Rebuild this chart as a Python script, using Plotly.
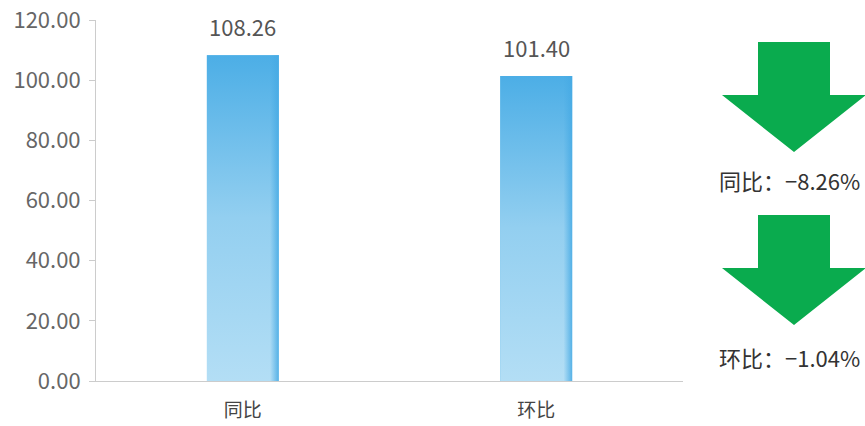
import plotly.graph_objects as go

# Index values for the two comparisons
categories = ["同比", "环比"]
values = [108.26, 101.40]

# Percentage changes shown beside the down arrows
change_labels = ["同比", "环比"]
change_pct = [-8.26, -1.04]

# Y axis ticks
y_ticks = [0, 20, 40, 60, 80, 100, 120]

FONT = "Noto Sans CJK SC"
BAR_W = 0.245
W, H = 865, 426
L, R, T, B = 96, 0, 20, 45
PLOT_W = W - L - R
MAIN_RIGHT = 683  # px where the bar chart's x axis ends

fig = go.Figure()

xs = list(range(len(categories)))

# Base bars
fig.add_trace(go.Bar(
    x=xs, y=values, width=BAR_W,
    marker=dict(color="#8ccdf0", line=dict(width=0)),
    hoverinfo="skip", showlegend=False,
))

# Vertical gradient body and darker right edge drawn over each bar
for i, v in zip(xs, values):
    x0, x1 = i - BAR_W / 2, i + BAR_W / 2
    fig.add_trace(go.Scatter(
        x=[x0, x1, x1, x0, x0], y=[0, 0, v, v, 0],
        mode="lines", line=dict(width=0), fill="toself",
        fillgradient=dict(type="vertical",
                          colorscale=[[0, "#b3def5"], [0.5, "#93cff0"], [1, "#4caee6"]]),
        hoverinfo="skip", showlegend=False,
    ))
    e0 = x1 - BAR_W * 0.12
    fig.add_trace(go.Scatter(
        x=[e0, x1, x1, e0, e0], y=[0, 0, v, v, 0],
        mode="lines", line=dict(width=0), fill="toself",
        fillgradient=dict(type="horizontal",
                          colorscale=[[0, "rgba(70,170,228,0)"], [1, "rgba(70,170,228,0.85)"]]),
        hoverinfo="skip", showlegend=False,
    ))

# Value labels above bars
annotations = []
for i, v in zip(xs, values):
    annotations.append(dict(
        x=i, y=v, xref="x", yref="y", text=f"{v:.2f}", showarrow=False,
        yanchor="bottom", yshift=11,
        font=dict(family=FONT, size=22, color="#555555"),
    ))

# Side panel: down arrows with change text, in pixel-like coordinates
arrow_tops = [42, 215]
text_y = [180, 357]
cx = 794
shapes = []
for k, (lab, pct) in enumerate(zip(change_labels, change_pct)):
    top = arrow_tops[k]
    shaft_bot = top + 53
    tip = top + 110
    path = (f"M{cx-36},{top} L{cx+36},{top} L{cx+36},{shaft_bot} L{cx+72},{shaft_bot} "
            f"L{cx},{tip} L{cx-72},{shaft_bot} L{cx-36},{shaft_bot} Z")
    shapes.append(dict(type="path", path=path, xref="x2", yref="y2",
                       fillcolor="#0aab4e", line=dict(width=0)))
    sign = "−" if pct < 0 else "+"
    annotations.append(dict(
        x=789, y=text_y[k], xref="x2", yref="y2",
        text=f"{lab}：{sign}{abs(pct):.2f}%", showarrow=False,
        xanchor="center", yanchor="middle",
        font=dict(family=FONT, size=22, color="#333333"),
    ))

fig.update_layout(
    width=W, height=H,
    margin=dict(l=L, r=R, t=T, b=B),
    paper_bgcolor="white", plot_bgcolor="white",
    showlegend=False,
    bargap=0,
    xaxis=dict(
        domain=[0, (MAIN_RIGHT - L) / PLOT_W],
        range=[-0.5, len(categories) - 0.5],
        tickvals=xs, ticktext=categories,
        showline=True, linecolor="#cccccc", linewidth=1,
        ticks="", showgrid=False, zeroline=False,
        tickfont=dict(family=FONT, size=19, color="#444444"),
        ticklabelstandoff=12,
        fixedrange=True,
    ),
    yaxis=dict(
        range=[0, 120], tickvals=y_ticks, tickformat=".2f",
        showline=True, linecolor="#cccccc", linewidth=1,
        ticks="outside", ticklen=6, tickcolor="#cccccc",
        showgrid=False, zeroline=False,
        tickfont=dict(family=FONT, size=22, color="#666666"),
        ticklabelstandoff=4,
    ),
    xaxis2=dict(domain=[(MAIN_RIGHT - L) / PLOT_W, 1], range=[MAIN_RIGHT, W],
                visible=False, anchor="y2"),
    yaxis2=dict(domain=[0, 1], range=[H - B, T], visible=False, anchor="x2"),
    shapes=shapes,
    annotations=annotations,
)

fig.write_html("out.html")
